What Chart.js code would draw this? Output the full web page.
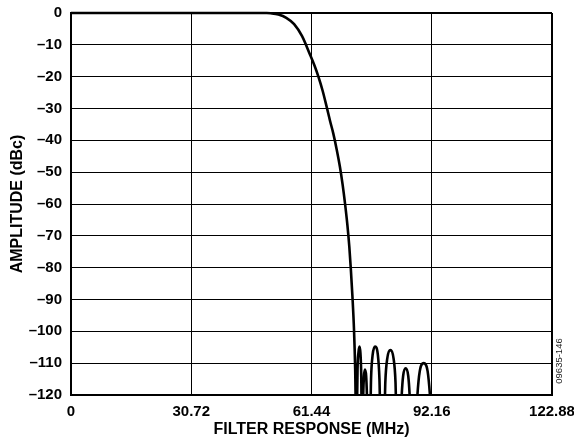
<!DOCTYPE html>
<html>
<head>
<meta charset="utf-8">
<script src="https://cdn.jsdelivr.net/npm/chart.js@4.4.1/dist/chart.umd.min.js"></script>
<style>
  html,body{margin:0;padding:0;background:#fff;}
  #wrap{position:relative;width:574px;height:446px;}
</style>
</head>
<body>
<div id="wrap"><canvas id="filterChart" width="574" height="446"></canvas></div>
<script>
// filter response (MHz, dBc); nulls below -120 get clipped
const freqMHz = [0, 50, 51, 53, 55, 57, 59, 61.1, 62.2, 63.2, 64.3, 65.3, 66.2, 67.0, 67.9, 68.7, 69.4, 70.0, 70.6, 71.1, 71.5, 71.9, 72.3, 72.6, 72.85,
  73.05, 73.2, 73.45, 73.7, 73.95, 74.15, 74.3,
  74.5, 74.65, 74.85, 75.1, 75.4, 75.6, 75.8,
  76.4, 76.65, 77.05, 77.7, 78.4, 78.8, 79.1,
  80.0, 80.3, 80.8, 81.6, 82.4, 82.9, 83.2,
  84.2, 84.45, 84.85, 85.5, 86.15, 86.55, 86.8,
  88.1, 88.5, 89.1, 90.1, 91.1, 91.7, 92.2];
const amplitudeDbc = [0, 0, -0.1, -0.5, -1.5, -3.5, -7.2, -13.2, -16.5, -20, -24.5, -29.4, -34, -37.8, -43, -48.3, -54, -59.8, -66.5, -73.4, -80.7, -89.1, -99.6, -112, -130,
  -125, -112, -106.5, -104.8, -107, -114, -130,
  -130, -120, -114, -112, -114, -120, -130,
  -130, -115, -107.5, -104.8, -107.5, -115, -130,
  -130, -116, -108.5, -105.9, -108.5, -116, -130,
  -130, -121, -114, -111.6, -114, -121, -130,
  -130, -120, -112.5, -110, -112.5, -120, -130];

const xTicks = [0, 30.72, 61.44, 92.16, 122.88];
const xTickLabels = ['0', '30.72', '61.44', '92.16', '122.88'];
const yTicks = [0, -10, -20, -30, -40, -50, -60, -70, -80, -90, -100, -110, -120];
const yTickLabels = ['0', '\u201310', '\u201320', '\u201330', '\u201340', '\u201350', '\u201360', '\u201370', '\u201380', '\u201390', '\u2013100', '\u2013110', '\u2013120'];

const FONT = '"Liberation Sans", Arial, Helvetica, sans-serif';
const tickFont = { family: FONT, size: 15, weight: 'bold' };
const titleFont = { family: FONT, size: 16, weight: 'bold' };

const figId = {
  id: 'figId',
  afterDraw(c){
    const ctx = c.ctx, a = c.chartArea;
    ctx.save();
    ctx.translate(a.right + 7, a.bottom - 34);
    ctx.rotate(-Math.PI/2);
    ctx.font = '9.5px ' + FONT;
    ctx.fillStyle = '#222';
    ctx.textAlign = 'center';
    ctx.textBaseline = 'middle';
    ctx.fillText('09635-146', 0, 0);
    ctx.restore();
  }
};

new Chart(document.getElementById('filterChart'), {
  type: 'line',
  data: {
    datasets: [{
      data: freqMHz.map((f,i)=>({ x: f, y: amplitudeDbc[i] })),
      borderColor: '#000', borderWidth: 2.6, pointRadius: 0,
      cubicInterpolationMode: 'monotone', fill: false,
      clip: { left: 0, top: 3, right: 0, bottom: 0 }
    }]
  },
  options: {
    responsive: false, animation: false,
    layout: { padding: { left: 0, top: 13, right: 22, bottom: 0 } },
    plugins: { legend: { display: false }, tooltip: { enabled: false } },
    scales: {
      x: {
        type: 'linear', min: 0, max: 122.88,
        afterFit: s => { s.height = 51; s.paddingLeft = 0; s.paddingRight = 0; },
        afterBuildTicks: s => { s.ticks = xTicks.map(v => ({ value: v })); },
        ticks: { color: '#000', font: tickFont, padding: 8, maxRotation: 0, autoSkip: false,
          callback: (v) => xTickLabels[xTicks.indexOf(v)] },
        grid: { color: '#000', lineWidth: c => (c.tick && (c.tick.value === 122.88)) ? 2 : 1, drawTicks: false },
        border: { color: '#000', width: 2 },
        title: { display: true, text: 'FILTER RESPONSE (MHz)', color: '#000',
          font: titleFont, padding: { top: 0, bottom: 7 } }
      },
      y: {
        min: -120, max: 0,
        afterFit: s => { s.width = 71; s.paddingTop = 0; s.paddingBottom = 0; },
        afterBuildTicks: s => { s.ticks = yTicks.map(v => ({ value: v })); },
        ticks: { color: '#000', font: tickFont, padding: 9, autoSkip: false,
          callback: (v) => yTickLabels[yTicks.indexOf(v)] },
        grid: { color: '#000', lineWidth: c => (c.tick && c.tick.value === 0) ? 2 : 1, drawTicks: false },
        border: { color: '#000', width: 2 },
        title: { display: true, text: 'AMPLITUDE (dBc)', color: '#000',
          font: titleFont, padding: { top: 8, bottom: 0 } }
      }
    }
  },
  plugins: [figId]
});
</script>
</body>
</html>
